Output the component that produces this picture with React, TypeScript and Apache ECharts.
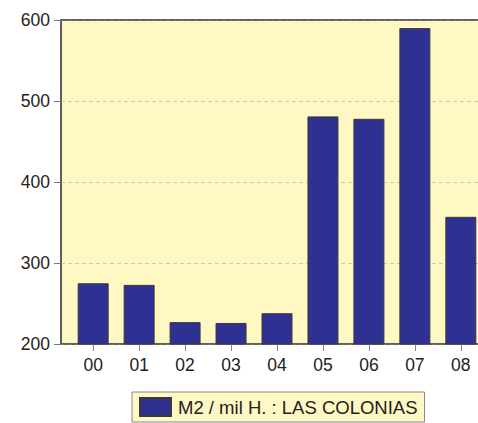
import React, { useEffect, useRef } from "react";
import * as echarts from "echarts";

const categories = ["00", "01", "02", "03", "04", "05", "06", "07", "08"];
const values = [275, 273, 227, 226, 238, 481, 478, 590, 357];
const yTicks = [200, 300, 400, 500, 600];
const seriesName = "M2 / mil H. : LAS COLONIAS";

export default function App() {
  const ref = useRef<HTMLDivElement>(null);
  useEffect(() => {
    if (!ref.current) return;
    const chart = echarts.init(ref.current, null, { renderer: "svg" });
    const font = "'Liberation Sans', Arial, sans-serif";
    const idx = categories.map((_, i) => i);
    chart.setOption({
      animation: false,
      backgroundColor: "#ffffff",
      grid: {
        left: 61,
        top: 20,
        width: 432,
        height: 324,
        outerBoundsMode: "none",
        containLabel: false,
        show: true,
        backgroundColor: "#fff8c2",
        borderColor: "#555555",
        borderWidth: 1.5,
      },
      xAxis: [
        {
          type: "value",
          min: -0.7,
          max: 8.7,
          splitLine: { show: false },
          axisLine: { show: true, onZero: false, lineStyle: { color: "#555555", width: 1.5 } },
          axisTick: {
            show: true,
            customValues: idx,
            length: 7,
            lineStyle: { color: "#888888" },
          },
          axisLabel: {
            customValues: idx,
            formatter: (v: number) => categories[Math.round(v)] ?? "",
            color: "#222222",
            fontSize: 17.5,
            fontFamily: font,
            margin: 12,
          },
        },
        {
          type: "value",
          position: "top",
          min: -0.7,
          max: 8.7,
          splitLine: { show: false },
          axisLine: { show: true, onZero: false, lineStyle: { color: "#555555", width: 1.5 } },
          axisTick: { show: false },
          axisLabel: { show: false },
        },
      ],
      yAxis: {
        type: "value",
        min: yTicks[0],
        max: yTicks[yTicks.length - 1],
        interval: 100,
        axisLine: { show: true, onZero: false, lineStyle: { color: "#555555", width: 1.5 } },
        axisTick: { show: true, length: 7, lineStyle: { color: "#777777" } },
        axisLabel: {
          color: "#222222",
          fontSize: 17.5,
          fontFamily: font,
          margin: 11,
        },
        splitLine: {
          show: true,
          lineStyle: { color: "#c8c8c8", type: [4, 3], width: 1 },
        },
      },
      legend: {
        left: 132,
        top: 392,
        orient: "horizontal",
        itemWidth: 31,
        itemHeight: 18,
        itemGap: 10,
        padding: [5, 7, 5, 7],
        backgroundColor: "#fff8c2",
        borderColor: "#888888",
        borderWidth: 1,
        borderRadius: 0,
        icon: "rect",
        selectedMode: false,
        textStyle: {
          color: "#222222",
          fontSize: 18.5,
          fontFamily: font,
          padding: [0, 0, 0, 2],
        },
        data: [seriesName],
      },
      series: [
        {
          name: seriesName,
          type: "bar",
          barWidth: 31,
          itemStyle: {
            color: "#2e3192",
            borderColor: "#3a3a3a",
            borderWidth: 1,
          },
          data: values.map((v, i) => [i, v]),
        },
      ],
    });
    return () => chart.dispose();
  }, []);
  return <div ref={ref} style={{ width: 478, height: 423, position: "absolute", left: 0, top: 0 }} />;
}
